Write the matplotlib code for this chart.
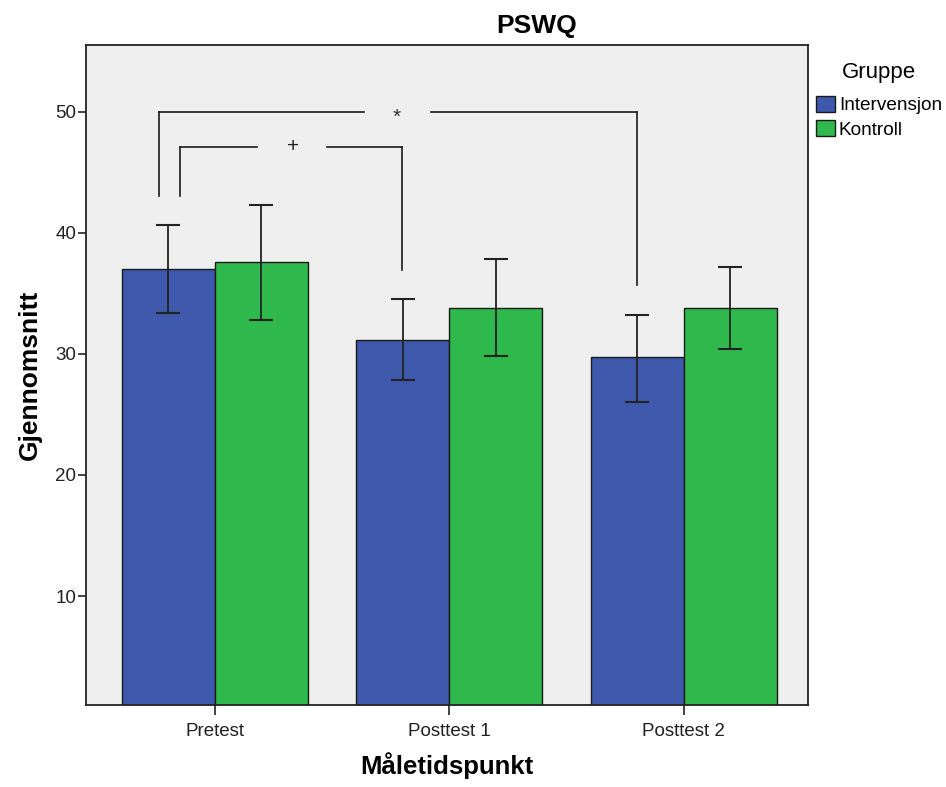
import matplotlib
matplotlib.use("Agg")
import matplotlib.pyplot as plt
from matplotlib.patches import Patch
import numpy as np

plt.rcParams['font.family'] = ['Liberation Sans', 'DejaVu Sans']

# data
categories = ["Pretest", "Posttest 1", "Posttest 2"]
groups = ["Intervensjon", "Kontroll"]
means_int = [37.0, 31.1, 29.7]
means_kon = [37.6, 33.8, 33.8]
lo_int = [33.4, 27.8, 26.0]
hi_int = [40.6, 34.5, 33.2]
lo_kon = [32.8, 29.8, 30.4]
hi_kon = [42.3, 37.8, 37.2]

blue = "#3e58ab"
green = "#2fb84b"

fig = plt.figure(figsize=(9.46, 7.87), dpi=100)
ax = fig.add_axes([0.0909, 0.1042, 0.7631, 0.8386])
ax.set_facecolor("#efefef")

x = np.arange(len(categories))
w = 0.397
means = [means_int, means_kon]
los = [lo_int, lo_kon]
his = [hi_int, hi_kon]
cols = [blue, green]
for g in range(2):
    xs = x + (g - 0.5) * w
    m = np.array(means[g])
    ax.bar(xs, m, width=w, color=cols[g], edgecolor="#1a1a1a", linewidth=1.0, zorder=2)
    err = [m - np.array(los[g]), np.array(his[g]) - m]
    ax.errorbar(xs, m, yerr=err, fmt="none", ecolor="#222222", elinewidth=1.3,
                capsize=8.3, capthick=1.5, zorder=3)

# significance brackets
lc = "#1a1a1a"
# outer bracket (*)
ax.plot([-0.24, -0.24], [43.0, 50.0], color=lc, lw=1.2)
ax.plot([-0.24, 0.635], [50.0, 50.0], color=lc, lw=1.2)
ax.plot([0.92, 1.80], [50.0, 50.0], color=lc, lw=1.2)
ax.plot([1.80, 1.80], [50.0, 35.7], color=lc, lw=1.2)
ax.text(0.776, 49.5, "*", ha="center", va="center", fontsize=15, color="#333333")
# inner bracket (+)
ax.plot([-0.15, -0.15], [43.0, 47.1], color=lc, lw=1.2)
ax.plot([-0.15, 0.18], [47.1, 47.1], color=lc, lw=1.2)
ax.plot([0.478, 0.80], [47.1, 47.1], color=lc, lw=1.2)
ax.plot([0.80, 0.80], [47.1, 36.9], color=lc, lw=1.2)
ax.text(0.333, 47.1, "+", ha="center", va="center", fontsize=15, color="#222222")

ax.set_xlim(-0.55, 2.53)
ax.set_ylim(1.0, 55.5)
ax.set_xticks(x)
ax.set_xticklabels(categories, fontsize=13.5, color="#222222")
ax.set_yticks([10, 20, 30, 40, 50])
ax.tick_params(axis="y", labelsize=13.5, length=6, width=1.2, colors="#222222", pad=1)
ax.tick_params(axis="x", length=7, width=1.2, colors="#222222", pad=6)
for s in ax.spines.values():
    s.set_linewidth(1.3)
    s.set_color("#222222")

ax.set_xlabel("Måletidspunkt", fontsize=18.5, fontweight="bold", labelpad=9)
ax.set_ylabel("Gjennomsnitt", fontsize=19, fontweight="bold", labelpad=10)
fig.text(537 / 946, 1 - 26 / 787, "PSWQ", ha="center", va="center",
         fontsize=19, fontweight="bold")

handles = [Patch(facecolor=cols[i], edgecolor="#1a1a1a", label=groups[i]) for i in range(2)]
leg = fig.legend(handles=handles, title="Gruppe", loc="upper left",
                 bbox_to_anchor=(816 / 946, 1 - 62 / 787), frameon=False,
                 fontsize=13.7, title_fontsize=16, handlelength=1.0,
                 handleheight=0.95, handletextpad=0.2, labelspacing=0.3,
                 borderaxespad=0, borderpad=0)
leg._legend_box.sep = 9

fig.savefig("out.png", dpi=100)
